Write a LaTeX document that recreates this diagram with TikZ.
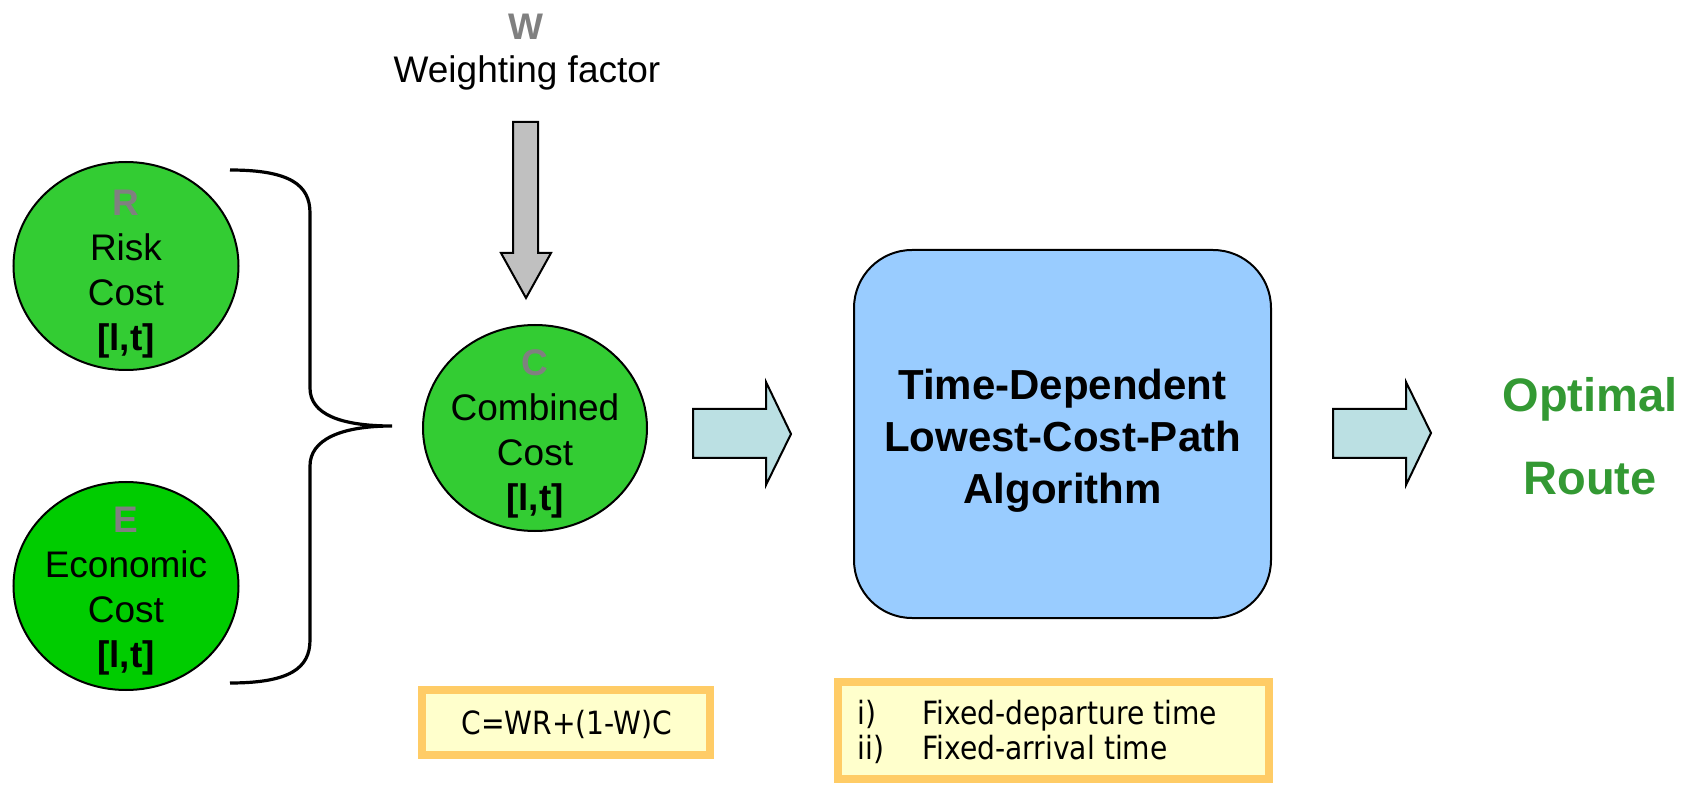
\documentclass[tikz,border=0pt]{standalone}
\usepackage{fontspec}
\setmainfont{Liberation Sans}
\newfontfamily\notefont[FakeStretch=0.88]{DejaVu Sans}
\usetikzlibrary{shapes.geometric}

\definecolor{riskgreen}{HTML}{33CC33}
\definecolor{econgreen}{HTML}{00CC00}
\definecolor{symgray}{HTML}{808080}
\definecolor{weightgray}{HTML}{C0C0C0}
\definecolor{flowcyan}{HTML}{BBE0E3}
\definecolor{algoblue}{HTML}{99CCFF}
\definecolor{noteedge}{HTML}{FFCC66}
\definecolor{notefill}{HTML}{FFFFCC}
\definecolor{routegreen}{HTML}{339933}

\newcommand{\costsym}[1]{{\bfseries\color{symgray}#1}}

\tikzset{
  costball/.style={ellipse, draw, line width=1pt, inner sep=0pt,
    minimum width=112.5pt, minimum height=104pt},
  costtext/.style={align=center, inner sep=0pt,
    font=\fontsize{18.5}{22.5}\selectfont},
  flowarrow/.style={draw, line width=1pt, fill=flowcyan},
  notebox/.style={draw=noteedge, fill=notefill, line width=4pt, inner sep=0pt},
  notetext/.style={inner sep=0pt, font=\notefont\fontsize{16}{17.5}\selectfont},
}

\begin{document}
\begin{tikzpicture}[x=0.5pt,y=-0.5pt]
\useasboundingbox (0,0) rectangle (1694,786);

% the two cost inputs
\node[costball, fill=riskgreen] (risk) at (126,266) {};
\node[costtext] (risktext) at (126,274) {\costsym{R}\\Risk\\Cost\\\textbf{[l,t]}};
\node[costball, fill=econgreen] (econ) at (126,586) {};
\node[costtext] (econtext) at (126,591) {\costsym{E}\\Economic\\Cost\\\textbf{[l,t]}};

% brace joining them
\coordinate (bracetip) at (392,426);
\draw[line width=1.6pt] (230,170) .. controls (290,170) and (310,185) .. (310,213)
  -- (310,388) .. controls (310,414) and (340,426) .. (bracetip)
  .. controls (340,426) and (310,440) .. (310,466)
  -- (310,640) .. controls (310,668) and (290,683) .. (230,683);

% weighting factor
\node[font=\fontsize{18.5}{22}\selectfont] (wsym) at (526,27) {\costsym{W}};
\node[font=\fontsize{18.5}{22}\selectfont] (wlabel) at (527,73) {Weighting factor};
\coordinate (wtip) at (526,298);
\draw[line width=1pt, fill=weightgray] (513,122) -- (538,122) -- (538,253) -- (551,253)
  -- (wtip) -- (501,253) -- (513,253) -- cycle;

% combined cost
\node[costball, fill=riskgreen, minimum width=112pt, minimum height=103pt] (comb) at (535,428) {};
\node[costtext] (combtext) at (535,434) {\costsym{C}\\Combined\\Cost\\\textbf{[l,t]}};

\node[notebox, minimum width=144pt, minimum height=32.5pt] (formula) at (566,722.5) {};
\node[notetext] (formulatext) at (567,724) {C=WR+(1-W)C};

% into the algorithm
\draw[flowarrow] (693,409) -- (766,409) -- (766,382) -- (791,434) -- (766,485)
  -- (766,458) -- (693,458) -- cycle;

\node[draw, line width=1pt, fill=algoblue, rounded corners=29pt,
  minimum width=208.5pt, minimum height=184pt] (algo) at (1062.5,434) {};
\node[align=center, inner sep=0pt, font=\bfseries\fontsize{21}{26}\selectfont]
  (algotext) at (1062.5,441) {Time-Dependent\\Lowest-Cost-Path\\Algorithm};

\node[notebox, minimum width=215.5pt, minimum height=48.5pt] (modes) at (1053.5,730.5) {};
\node[notetext, align=left, anchor=west] (modestext) at (857,732)
  {\makebox[32.5pt][l]{i)}Fixed-departure time\\\makebox[32.5pt][l]{ii)}Fixed-arrival time};

% result
\draw[flowarrow] (1333,409) -- (1406,409) -- (1406,382) -- (1431,433) -- (1406,485)
  -- (1406,458) -- (1333,458) -- cycle;
\node[align=center, inner sep=0pt, text=routegreen,
  font=\bfseries\fontsize{23.5}{41.5}\selectfont] (route) at (1590,436) {Optimal\\Route};
\end{tikzpicture}
\end{document}
